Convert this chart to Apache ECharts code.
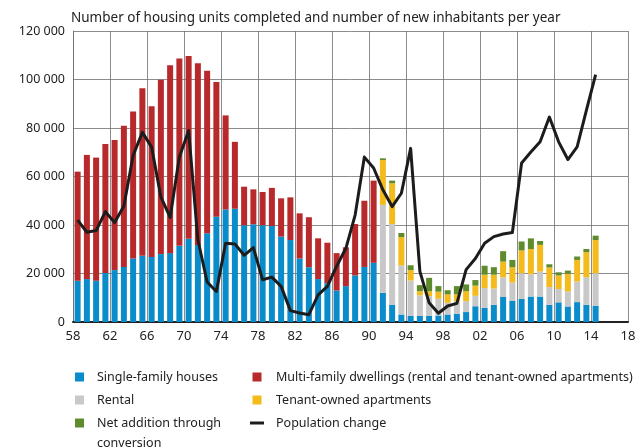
<!DOCTYPE html>
<html>
<head>
<meta charset="utf-8">
<script src="https://cdn.jsdelivr.net/npm/echarts@6/dist/echarts.min.js"></script>
<style>
html,body{margin:0;padding:0;background:#fff;}
#chart{width:640px;height:447px;}
</style>
</head>
<body>
<div id="chart"></div>
<script>
// Categories (years shown as bars/points)
const years = [1958,1959,1960,1961,1962,1963,1964,1965,1966,1967,1968,1969,1970,1971,1972,1973,1974,1975,1976,1977,1978,1979,1980,1981,1982,1983,1984,1985,1986,1987,1988,1989,1990,1991,1992,1993,1994,1995,1996,1997,1998,1999,2000,2001,2002,2003,2004,2005,2006,2007,2008,2009,2010,2011,2012,2013,2014];
const padYears = [2015,2016,2017];

// Single-family houses, 1958-2014
const singleFamily = [17000,17700,17000,20200,21400,22700,26200,27300,26800,28000,28400,31400,34300,31800,36600,43400,46400,46700,39900,40300,39900,39600,35200,33800,26200,22600,17700,16000,13000,14800,19200,22700,24400,
  12000,7000,3100,2500,2500,2500,2700,3100,3400,4100,6500,5800,7100,10300,8800,9500,10500,10500,7100,8100,6400,8200,7100,6700];
// Multi-family dwellings, 1958-1990
const multiFamily = [45000,51200,50800,53200,53700,58200,60600,69100,62200,71900,77500,77300,75400,74900,67000,55600,38800,27600,15900,14400,13700,15700,15800,17600,18600,20600,16800,16700,15400,16000,21200,27300,33900];
// Rental, 1991-2014
const rental = [36300,33400,20200,14600,8500,8200,6900,4800,5200,4500,4300,8200,6700,8100,7500,10600,9200,10300,7300,5500,6200,8500,11400,13400];
// Tenant-owned apartments, 1991-2014
const tenantOwned = [18500,16800,11700,4300,1700,2000,2900,3500,2800,4100,4200,5500,5700,6500,6300,9400,10400,11000,8100,5600,7300,8900,10300,13700];
// Net addition through conversion, 1991-2014
const conversion = [700,1100,1700,2000,2500,5500,2300,1700,3400,2800,2300,3700,3100,4300,3000,3700,4400,1600,1300,1300,1300,1400,1300,1800];
// Population change, 1958-2014
const population = [42000,37000,37700,45500,41000,47800,68700,78200,72100,51600,43100,68000,78900,33900,16500,12600,32500,32200,27500,30700,17400,18500,14700,4700,3700,3000,11200,14700,23000,30400,44100,68000,63500,
  54500,47600,53100,71600,20900,7900,3600,6600,7700,21600,26200,32500,35200,36300,36900,65600,70100,74300,84500,74300,67000,72200,87300,102000];

// Tick labels
const yTicks = [0,20000,40000,60000,80000,100000,120000];
const xTickYears = [58,62,66,70,74,78,82,86,90,94,98,102,106,110,114,118];

const nAll = years.length + padYears.length;
function fit(arr, start) {
  const out = [];
  for (let i = 0; i < nAll; i++) {
    const j = i - start;
    out.push(j >= 0 && j < arr.length ? arr[j] : null);
  }
  return out;
}
const lateStart = years.indexOf(1991);

const FONT = '"Noto Sans", "Open Sans", sans-serif';
const chart = echarts.init(document.getElementById('chart'), null, {renderer: 'canvas'});

const barCommon = {type: 'bar', stack: 'total', xAxisIndex: 0, yAxisIndex: 0, barWidth: 6};
const SQ = 'path://M0,0H9V9H0Z';
const LN = 'path://M0,0H14V3H0Z';

chart.setOption({
  backgroundColor: '#ffffff',
  animation: false,
  title: {
    text: 'Number of housing units completed and number of new inhabitants per year',
    left: 66, top: 6,
    textStyle: {fontFamily: FONT, fontSize: 13.5, fontWeight: 'normal', color: '#222'}
  },
  grid: {left: 73, right: 12, top: 31, bottom: 125},
  xAxis: [
    {
      type: 'category', data: years.concat(padYears), show: false, position: 'top',
      boundaryGap: true
    },
    {
      type: 'value', min: xTickYears[0], max: xTickYears[xTickYears.length - 1], interval: 4,
      position: 'bottom',
      axisLine: {show: true, onZero: false, lineStyle: {color: '#222', width: 2}},
      axisTick: {show: false},
      axisLabel: {
        margin: 8, fontFamily: FONT, fontSize: 13, color: '#222',
        formatter: v => String(v % 100).padStart(2, '0')
      },
      splitLine: {show: true, showMinLine: true, showMaxLine: true, lineStyle: {color: '#6e6e6e', width: 0.8}}
    }
  ],
  yAxis: {
    type: 'value', min: yTicks[0], max: yTicks[yTicks.length - 1], interval: 20000,
    axisLine: {show: true, lineStyle: {color: '#6e6e6e', width: 0.8}},
    axisTick: {show: false},
    axisLabel: {
      margin: 8, fontFamily: FONT, fontSize: 12.5, color: '#222',
      formatter: v => v >= 1000 ? Math.floor(v / 1000) + ' ' + String(v % 1000).padStart(3, '0') : String(v)
    },
    splitLine: {show: true, lineStyle: {color: '#6e6e6e', width: 0.8}}
  },
  legend: [
    {
      left: 75, top: 369, orient: 'vertical', itemWidth: 9, itemHeight: 9, itemGap: 7, padding: 0,
      symbolKeepAspect: true,
      textStyle: {fontFamily: FONT, fontSize: 12.5, color: '#222', lineHeight: 16, padding: [0, 0, 0, 8]},
      data: [
        {name: 'Single-family houses', icon: SQ},
        {name: 'Rental', icon: SQ},
        {name: 'Net addition through', icon: SQ}
      ],
      selectedMode: false
    },
    {
      left: 250, top: 369, orient: 'vertical', itemWidth: 14, itemHeight: 9, itemGap: 7, padding: 0,
      symbolKeepAspect: true,
      textStyle: {fontFamily: FONT, fontSize: 12.5, color: '#222', lineHeight: 16, padding: [0, 0, 0, 7]},
      data: [
        {name: 'Multi-family dwellings (rental and tenant-owned apartments)', icon: SQ},
        {name: 'Tenant-owned apartments', icon: SQ},
        {name: 'Population change', icon: LN}
      ],
      selectedMode: false
    }
  ],
  graphic: [
    {type: 'text', left: 97, top: 437, style: {text: 'conversion', font: '12.5px ' + FONT, fill: '#222'}}
  ],
  series: [
    Object.assign({}, barCommon, {name: 'Single-family houses', data: fit(singleFamily, 0), itemStyle: {color: '#0a8ccb'}}),
    Object.assign({}, barCommon, {name: 'Multi-family dwellings (rental and tenant-owned apartments)', data: fit(multiFamily, 0), itemStyle: {color: '#b8292b'}}),
    Object.assign({}, barCommon, {name: 'Rental', data: fit(rental, lateStart), itemStyle: {color: '#c8c8c8'}}),
    Object.assign({}, barCommon, {name: 'Tenant-owned apartments', data: fit(tenantOwned, lateStart), itemStyle: {color: '#f3bb1b'}}),
    Object.assign({}, barCommon, {name: 'Net addition through', data: fit(conversion, lateStart), itemStyle: {color: '#5e8c2c'}}),
    {
      name: 'Population change', type: 'line', xAxisIndex: 0, yAxisIndex: 0,
      data: fit(population, 0), showSymbol: false, symbol: 'none', z: 5,
      lineStyle: {color: '#1c1c1c', width: 3, join: 'round'}, itemStyle: {color: '#1c1c1c'}
    }
  ]
});
</script>
</body>
</html>
